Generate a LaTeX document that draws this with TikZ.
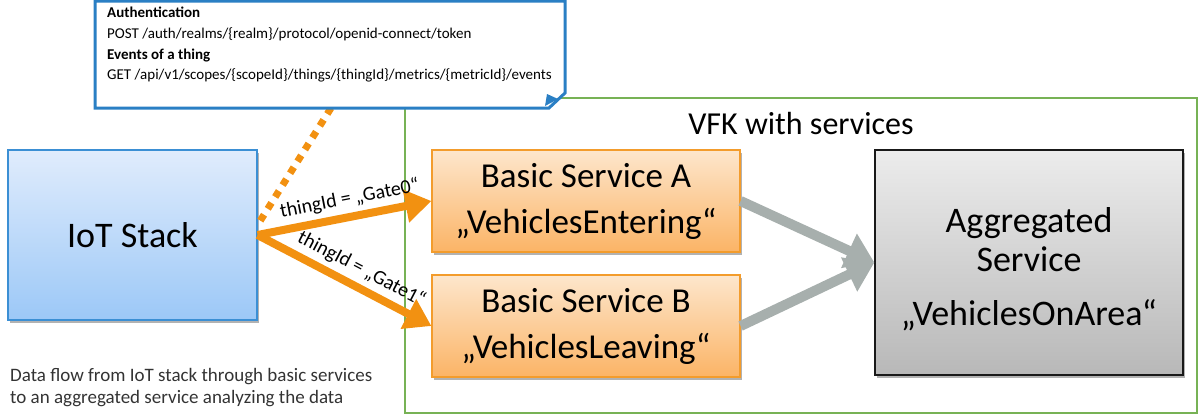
\documentclass[tikz,border=0pt]{standalone}
\usepackage{fontspec}
\setmainfont{Carlito}
\usetikzlibrary{arrows.meta,shadows}
\definecolor{cblue}{HTML}{2A7FC4}
\definecolor{iotbord}{HTML}{3B8FD4}
\definecolor{iottop}{HTML}{E0ECFC}
\definecolor{iotbot}{HTML}{9CC8F7}
\definecolor{orbord}{HTML}{F39C2C}
\definecolor{ortop}{HTML}{FDE6CC}
\definecolor{orbot}{HTML}{FBB466}
\definecolor{flow}{HTML}{F29111}
\definecolor{grayarr}{HTML}{A7AFAD}
\definecolor{aggtop}{HTML}{ECECEC}
\definecolor{aggbot}{HTML}{B8B8B8}
\definecolor{vfkgreen}{HTML}{77B255}
\definecolor{captext}{HTML}{333333}
\begin{document}
\begin{tikzpicture}[x=1pt,y=-1pt,
  boxshadow/.style={drop shadow={shadow xshift=2pt,shadow yshift=-2.5pt,opacity=0.3,fill=black}},
  iotbox/.style={draw=iotbord,line width=1.2pt,top color=iottop,bottom color=iotbot,boxshadow,
    minimum width=249pt,minimum height=170pt,inner sep=0pt,font=\fontsize{36}{42}\selectfont},
  svcbox/.style={draw=orbord,line width=1.2pt,top color=ortop,bottom color=orbot,boxshadow,
    minimum width=308pt,minimum height=102pt,inner sep=0pt,align=center,
    font=\fontsize{35}{46}\selectfont},
  aggbox/.style={draw=black!90,line width=1.2pt,top color=aggtop,bottom color=aggbot,boxshadow,
    minimum width=308pt,minimum height=225pt,inner sep=0pt,align=center,
    font=\fontsize{36}{39}\selectfont},
  flowarrow/.style={draw=flow,line width=8pt,-{Triangle[length=26pt,width=32pt]}},
  grayarrow/.style={draw=grayarr,line width=10pt,-{Triangle[length=28pt,width=36pt]}},
  flowlabel/.style={font=\fontsize{20}{24}\selectfont,sloped,above=4pt,pos=0.55,inner sep=1pt},
  dotline/.style={draw=flow,line width=7pt,dash pattern=on 7pt off 7pt},
  callout/.style={draw=cblue,line width=3pt,fill=white,line join=miter}
]
\useasboundingbox (0,0) rectangle (1200,415);

% green container
\node[draw=vfkgreen,line width=1.2pt,minimum width=792pt,minimum height=315pt,inner sep=0pt] (vfk) at (801,255.5) {};
\node[font=\fontsize{32}{36}\selectfont] (vfklabel) at (801,124) {VFK with services};

% boxes
\node[iotbox] (iot) at (132.5,235) {IoT Stack};
\node[svcbox] (sa) at (586,201) {Basic Service A\\„VehiclesEntering“};
\node[svcbox] (sb) at (586,326) {Basic Service B\\„VehiclesLeaving“};
\node[aggbox] (agg) at (1029,262.5) {\rule{0pt}{39pt}Aggregated\\Service\\[15pt]„VehiclesOnArea“};

% callout
\coordinate (callpt) at (331,108);
\draw[dotline] (callpt) -- ([yshift=10pt]iot.east);
\draw[callout] (95,1) -- (565,1) -- (565,93) -- (549,108) -- (95,108) -- cycle;
\fill[cblue] (545,106) -- (547,94) -- (558,99) -- cycle;
\node[anchor=north west,align=left,inner sep=0pt,font=\fontsize{15}{20.7}\selectfont] (calltext) at (107,7)
  {\textbf{Authentication}\\
   POST /auth/realms/\{realm\}/protocol/openid-connect/token\\
   \textbf{Events of a thing}\\
   GET /api/v1/scopes/\{scopeId\}/things/\{thingId\}/metrics/\{metricId\}/events};

% flow arrows
\draw[flowarrow] (iot.east) -- node[flowlabel] {thingId = „Gate0“} (sa.west);
\draw[flowarrow] (iot.east) -- node[flowlabel] {thingId = „Gate1“} (sb.west);

% gray arrows
\draw[grayarrow] (sa.east) -- (agg.west);
\draw[grayarrow] (sb.east) -- (agg.west);

% caption
\node[anchor=north west,align=left,inner sep=0pt,text=captext,font=\fontsize{19}{22}\selectfont] (caption) at (10,368)
  {Data flow from IoT stack through basic services\\to an aggregated service analyzing the data};
\end{tikzpicture}
\end{document}
